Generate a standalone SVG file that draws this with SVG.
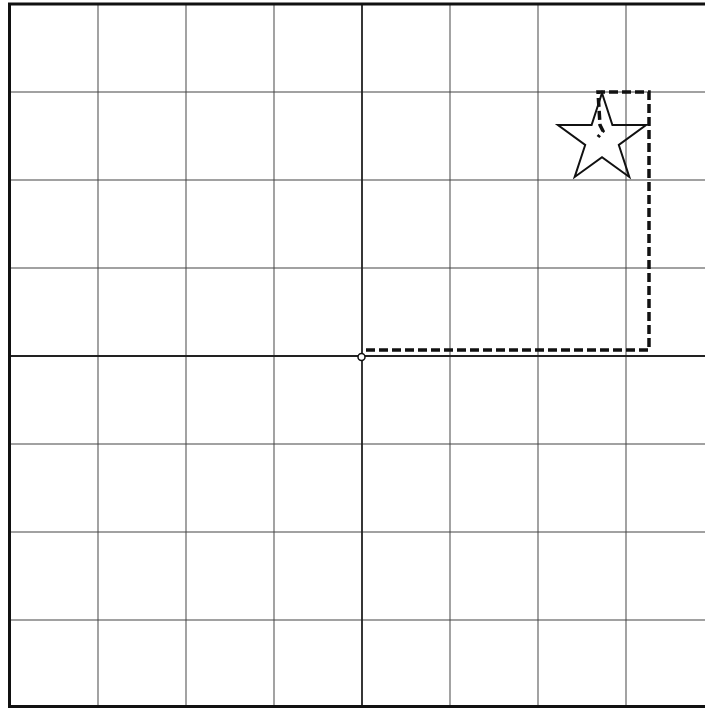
<svg xmlns="http://www.w3.org/2000/svg" width="705" height="708" viewBox="0 0 705 708">
<style>
.v{stroke:#666;stroke-width:1.2;fill:none}
.h{stroke:#444;stroke-width:1.2;fill:none}
.axis{stroke:#222;stroke-width:1.8;fill:none}
.path{stroke:#111;stroke-width:3.5;fill:none;stroke-dasharray:9 4}
</style>
<rect width="705" height="708" fill="#fff"/>
<g id="grid">
<path class="v" d="M98 4V707M186 4V707M274 4V707M450 4V707M538 4V707M626 4V707"/>
<path class="h" d="M9 92H705M9 180H705M9 268H705M9 444H705M9 532H705M9 620H705"/>
<path class="axis" d="M362 4V707M9 356H705"/>
</g>
<rect id="border" x="9.5" y="4" width="710" height="702.5" fill="none" stroke="#111" stroke-width="3"/>
<g id="connectors">
<path class="path" d="M366 350H649V92H598L600 125L603 131L598 137"/>
</g>
<g id="star">
<polygon points="602,93 612.4,125.1 646.1,125.1 618.8,145 629.3,177 602,157.2 574.7,177 585.2,145 557.9,125.1 591.6,125.1" fill="none" stroke="#111" stroke-width="2"/>
</g>
<g id="origin">
<circle cx="361.5" cy="357" r="3.5" fill="#fff" stroke="#111" stroke-width="1.5"/>
</g>
</svg>
